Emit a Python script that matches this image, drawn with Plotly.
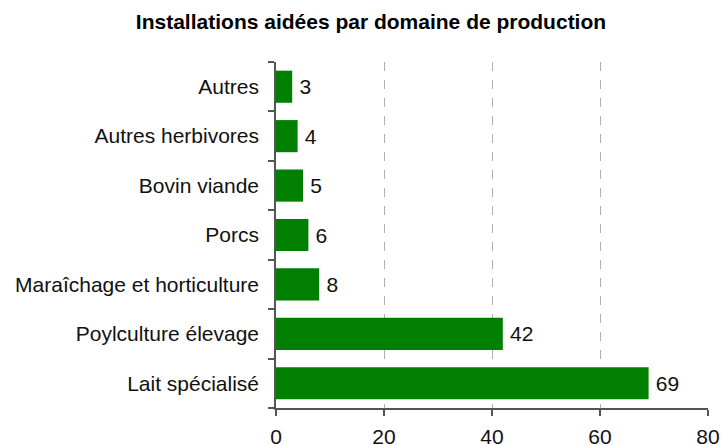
import plotly.graph_objects as go

categories = ["Lait spécialisé", "Poylculture élevage", "Maraîchage et horticulture",
              "Porcs", "Bovin viande", "Autres herbivores", "Autres"]
values = [69, 42, 8, 6, 5, 4, 3]
x_ticks = [0, 20, 40, 60, 80]

FONT = "Liberation Sans, Arial"

fig = go.Figure(go.Bar(
    y=categories, x=values, orientation="h",
    marker=dict(color="#007f00", line=dict(width=0)),
    width=0.65,
    text=["\u2009" + str(v) for v in values], textposition="outside",
    textfont=dict(size=21, color="#111111", family=FONT),
    cliponaxis=False,
))

fig.update_layout(
    width=721, height=445,
    margin=dict(l=276, r=13, t=62, b=37),
    paper_bgcolor="white", plot_bgcolor="white",
    font=dict(family=FONT, size=21, color="#111111"),
    title=dict(text="<b>Installations aidées par domaine de production</b>",
               x=371/721, xanchor="center", y=1 - 22/445, yanchor="middle",
               font=dict(size=21, color="#000000", family=FONT)),
    showlegend=False,
    bargap=0.35,
)
fig.update_xaxes(
    range=[0, 80], tickvals=x_ticks, ticktext=[str(t) for t in x_ticks],
    showgrid=True, gridcolor="#b0b0b0", griddash="dash", gridwidth=1,
    showline=True, linecolor="#555555", linewidth=1.5,
    ticks="outside", ticklen=6, tickcolor="#555555", tickwidth=1.5,
    ticklabelstandoff=3, zeroline=False, automargin=False,
    tickfont=dict(size=21, family=FONT, color="#111111"),
)
fig.update_yaxes(
    categoryorder="array", categoryarray=categories,
    showline=True, linecolor="#555555", linewidth=1.5,
    ticks="outside", ticklen=6, tickcolor="#555555", tickwidth=1.5,
    tickson="boundaries", showgrid=False, ticklabelstandoff=11,
    automargin=False,
    tickfont=dict(size=21, family=FONT, color="#111111"),
)

fig.write_html("out.html", config={"displayModeBar": False},
               post_script="document.body.style.margin='0';")
